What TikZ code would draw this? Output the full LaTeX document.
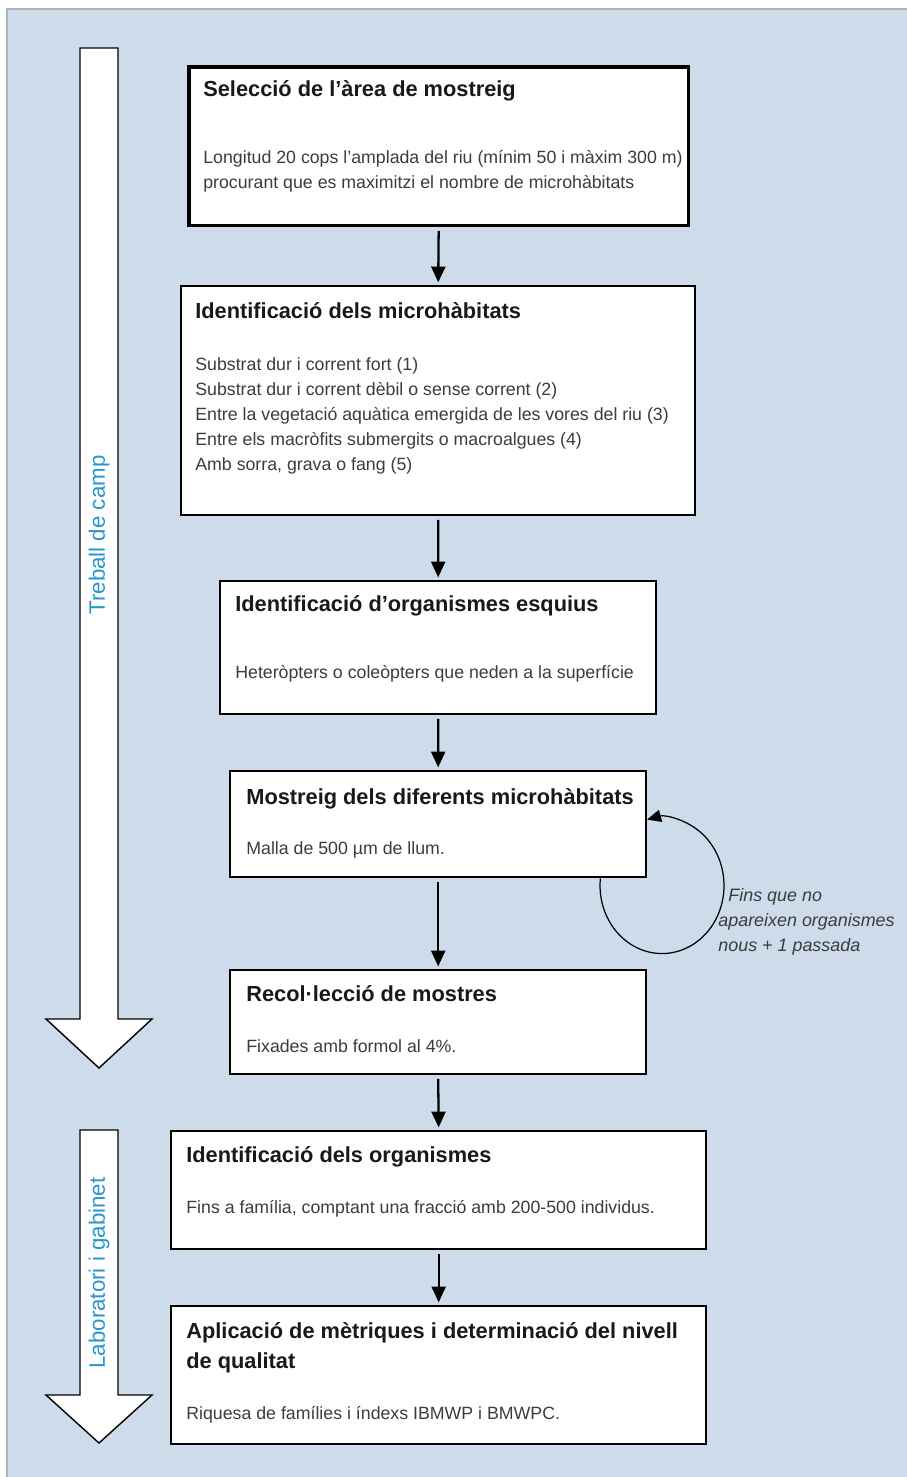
\documentclass[tikz,border=0pt]{standalone}
\usepackage{fontspec}
\setmainfont{Liberation Sans}
\usetikzlibrary{arrows.meta, calc}
\definecolor{Panel}{RGB}{206, 219, 235}
\definecolor{Stage}{RGB}{40, 150, 210}
\definecolor{Body}{RGB}{60, 60, 60}

\begin{document}
\begin{tikzpicture}[x=0.02cm, y=0.02cm,
    stepbox/.style={draw=black, line width=1.4pt, fill=white, anchor=north west, inner sep=0pt},
    title/.style={anchor=base west, inner sep=0pt, align=left, text=black!90,
        font=\fontsize{12.4}{17}\selectfont\bfseries},
    body/.style={anchor=base west, inner sep=0pt, align=left, text=Body,
        font=\fontsize{10.1}{14.2}\selectfont},
    flow/.style={-{Triangle[length=9pt, width=8pt]}, line width=1.3pt,
        shorten <=2pt, shorten >=1.5pt},
    phase/.style={draw=black, line width=0.8pt, fill=white},
    phaselabel/.style={rotate=90, inner sep=0pt, text=Stage,
        font=\fontsize{12.7}{15}\selectfont}]

    \useasboundingbox (0,0) rectangle (906,-1477);
    % Background panel
    \fill[white] (0,0) rectangle (906,-1477);
    \draw[fill=Panel, draw=gray!60, line width=0.8pt] (7,-9) rectangle (910,-1480);

    % Phase arrows
    \draw[phase] (80,-48) -- (118,-48) -- (118,-1019) -- (152,-1019) -- (99,-1068)
        -- (46,-1019) -- (80,-1019) -- cycle;
    \node[phaselabel] (camp) at (99,-535) {Treball de camp};

    \draw[phase] (80,-1130) -- (118,-1130) -- (118,-1395) -- (152,-1395) -- (99,-1443)
        -- (46,-1395) -- (80,-1395) -- cycle;
    \node[phaselabel] (lab) at (99,-1273) {Laboratori i gabinet};

    % Steps (multi-line texts sit on their last baseline)
    \node[stepbox, line width=2pt, minimum width=10cm, minimum height=3.18cm] (sel) at (187,-65) {};
    \node[title] (selT) at (203,-97) {Selecció de l’àrea de mostreig};
    \node[body] (selB) at (203,-188) {Longitud 20 cops l’amplada del riu (mínim 50 i màxim 300 m)\\
        procurant que es maximitzi el nombre de microhàbitats};

    \node[stepbox, minimum width=10.28cm, minimum height=4.58cm] (mic) at (180,-285) {};
    \node[title] (micT) at (195,-318) {Identificació dels microhàbitats};
    \node[body] (micB) at (195,-470) {Substrat dur i corrent fort (1)\\
        Substrat dur i corrent dèbil o sense corrent (2)\\
        Entre la vegetació aquàtica emergida de les vores del riu (3)\\
        Entre els macròfits submergits o macroalgues (4)\\
        Amb sorra, grava o fang (5)};

    \node[stepbox, minimum width=8.72cm, minimum height=2.66cm] (esq) at (219,-580) {};
    \node[title] (esqT) at (235,-611) {Identificació d’organismes esquius};
    \node[body] (esqB) at (235,-678) {Heteròpters o coleòpters que neden a la superfície};

    \node[stepbox, minimum width=8.32cm, minimum height=2.12cm] (mos) at (229,-770) {};
    \node[title] (mosT) at (246,-804) {Mostreig dels diferents microhàbitats};
    \node[body] (mosB) at (246,-854) {Malla de 500 µm de llum.};

    \node[stepbox, minimum width=8.32cm, minimum height=2.08cm] (rec) at (229,-969) {};
    \node[title] (recT) at (246,-1001) {Recol·lecció de mostres};
    \node[body] (recB) at (246,-1052) {Fixades amb formol al 4\%.};

    \node[stepbox, minimum width=10.7cm, minimum height=2.36cm] (ido) at (170,-1130) {};
    \node[title] (idoT) at (186,-1162) {Identificació dels organismes};
    \node[body] (idoB) at (186,-1213) {Fins a família, comptant una fracció amb 200-500 individus.};

    \node[stepbox, minimum width=10.7cm, minimum height=2.76cm] (apl) at (170,-1305) {};
    \node[title] (aplT) at (186,-1368) {Aplicació de mètriques i determinació del nivell\\de qualitat};
    \node[body] (aplB) at (186,-1419) {Riquesa de famílies i índexs IBMWP i BMWPC.};

    % Arrows
    \draw[flow] (sel.south) -- (mic.north);
    \draw[flow] (mic.south) -- (esq.north);
    \draw[flow] (esq.south) -- (mos.north);
    \draw[flow] (mos.south) -- (rec.north);
    \draw[flow] (rec.south) -- (ido.north);
    \draw[flow] (ido.south) -- (apl.north);

    % Repeat loop
    \coordinate (loopA) at ($(mos.south east)+(-47,0)$);
    \draw[-{Triangle[length=8pt, width=7pt]}, line width=0.7pt] (loopA)
        arc[start angle=174, end angle=464, x radius=1.24cm, y radius=1.36cm];
    \node[anchor=base west, inner sep=0pt, align=left, text=Body,
        font=\fontsize{10.2}{14.2}\selectfont\itshape] (loopT) at (718,-951)
        {\hspace*{0.2cm}Fins que no\\apareixen organismes\\nous + 1 passada};
\end{tikzpicture}
\end{document}
